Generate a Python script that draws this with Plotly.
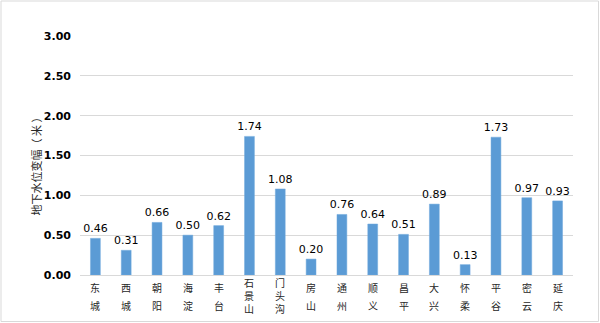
import plotly.graph_objects as go

districts = ["东城", "西城", "朝阳", "海淀", "丰台", "石景山", "门头沟", "房山",
             "通州", "顺义", "昌平", "大兴", "怀柔", "平谷", "密云", "延庆"]
values = [0.46, 0.31, 0.66, 0.50, 0.62, 1.74, 1.08, 0.20,
          0.76, 0.64, 0.51, 0.89, 0.13, 1.73, 0.97, 0.93]
y_title = "地下水位变幅（ 米 ）"

W, H = 600, 323
L, R, T, B = 80, 27, 36, 48
PW, PH = W - L - R, H - T - B

fig = go.Figure(go.Bar(
    x=districts, y=values,
    marker=dict(color="#5B9BD5", line=dict(color="#6FA8DC", width=0.5)),
    text=[f"{v:.2f}" for v in values], textposition="outside",
    textfont=dict(family="DejaVu Sans", size=11, color="#000000"),
    constraintext="none", cliponaxis=False,
))

fig.update_layout(
    width=W, height=H, margin=dict(l=L, r=R, t=T, b=B),
    paper_bgcolor="white", plot_bgcolor="white",
    bargap=0.68, showlegend=False,
    font=dict(family="DejaVu Sans, Noto Sans CJK SC", color="#000000"),
)
fig.update_yaxes(range=[0, 3], dtick=0.5, tickformat=".2f",
                 tickfont=dict(family="DejaVu Sans", size=11, color="#000000", weight="bold"),
                 showgrid=True, gridcolor="#D9D9D9", gridwidth=1,
                 zeroline=True, zerolinecolor="#D9D9D9", zerolinewidth=1,
                 ticks="", ticklabelstandoff=8, fixedrange=True)
fig.update_xaxes(showticklabels=False, showgrid=False, ticks="", fixedrange=True)

lab_font = dict(family="Noto Sans CJK SC", size=10, color="#262626")
# category labels, one character per line
for name in districts:
    if len(name) == 2:
        for ch, off in zip(name, [12, 30]):
            fig.add_annotation(x=name, xref="x", y=0, yref="paper", text=ch,
                               showarrow=False, yanchor="middle", yshift=-off,
                               font=lab_font)
    else:
        fig.add_annotation(x=name, xref="x", y=0, yref="paper", text="<br>".join(name),
                           showarrow=False, yanchor="middle", yshift=-20,
                           font=lab_font)

fig.add_annotation(x=0, xref="paper", xshift=-(L - 25), y=0.5, yref="paper", yshift=-8,
                   text=y_title, textangle=-90, showarrow=False,
                   font=dict(family="Noto Sans CJK SC", size=11, color="#262626"))

fig.add_shape(type="rect", xref="paper", yref="paper",
              x0=-(L - 1) / PW, x1=1 + (R - 1.5) / PW,
              y0=-(B - 1.5) / PH, y1=1 + (T - 1) / PH,
              line=dict(color="#D9D9D9", width=1), fillcolor="rgba(0,0,0,0)", layer="below")

fig.write_html("out.html")
